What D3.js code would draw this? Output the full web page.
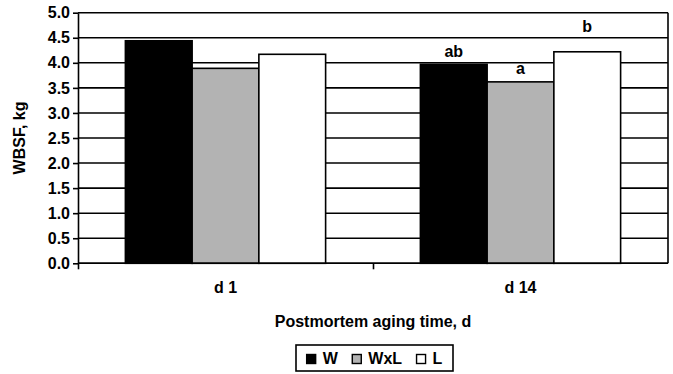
<!DOCTYPE html>
<html>
<head>
<meta charset="utf-8">
<script src="https://cdn.jsdelivr.net/npm/d3@7"></script>
<style>
  body { margin: 0; background: #fff; }
  text { font-family: "Liberation Sans", Arial, sans-serif; font-weight: bold; fill: #000; }
</style>
</head>
<body>
<div id="chart"></div>
<script>
// data
const days = ["d 1", "d 14"];
const breeds = ["W", "WxL", "L"];
const W = [4.44, 3.97];
const WxL = [3.89, 3.62];
const L = [4.17, 4.22];
// significance letters on d 14 and the height they sit at (kg)
const letters = ["ab", "a", "b"];
const letterAt = [4.12, 3.77, 4.61];
const yTicks = [0, 0.5, 1, 1.5, 2, 2.5, 3, 3.5, 4, 4.5, 5];

const colors = {W: "#000000", WxL: "#b3b3b3", L: "#ffffff"};
const values = {W: W, WxL: WxL, L: L};

var width = 673, height = 374;
var margin = {top: 12.7, right: 5, bottom: 110.7, left: 78};

var svg = d3.select("#chart").append("svg")
  .attr("width", width)
  .attr("height", height);

var x0 = d3.scaleBand()
  .domain(days)
  .range([margin.left, width - margin.right]);

var x1 = d3.scaleBand()
  .domain(breeds)
  .range([0, x0.bandwidth()])
  .paddingOuter(0.71);

var y = d3.scaleLinear()
  .domain([0, 5])
  .range([height - margin.bottom, margin.top]);

// horizontal grid lines
svg.append("g")
  .selectAll("line")
  .data(yTicks)
  .join("line")
    .attr("x1", margin.left)
    .attr("x2", width - margin.right)
    .attr("y1", d => y(d))
    .attr("y2", d => y(d))
    .attr("stroke", "#000")
    .attr("stroke-width", 1.6);

// right border
svg.append("line")
  .attr("x1", width - margin.right)
  .attr("x2", width - margin.right)
  .attr("y1", y(5))
  .attr("y2", y(0))
  .attr("stroke", "#000")
  .attr("stroke-width", 1.6);

// bars
var rows = [];
days.forEach((day, i) => {
  breeds.forEach(b => rows.push({day: day, breed: b, value: values[b][i], i: i}));
});

svg.append("g")
  .selectAll("rect")
  .data(rows)
  .join("rect")
    .attr("x", d => x0(d.day) + x1(d.breed))
    .attr("y", d => y(d.value))
    .attr("width", x1.bandwidth())
    .attr("height", d => y(0) - y(d.value))
    .attr("fill", d => colors[d.breed])
    .attr("stroke", "#000")
    .attr("stroke-width", 1.6);

// letters over d 14
svg.append("g")
  .selectAll("text")
  .data(breeds)
  .join("text")
    .attr("x", (d) => x0(days[1]) + x1(d) + x1.bandwidth() / 2)
    .attr("y", (d, i) => y(letterAt[i]))
    .attr("text-anchor", "middle")
    .style("font-size", "16px")
    .text((d, i) => letters[i]);

// y axis
var yAxis = svg.append("g")
  .attr("transform", `translate(${margin.left},0)`)
  .call(d3.axisLeft(y).tickValues(yTicks).tickFormat(d3.format(".1f"))
    .tickSize(5).tickSizeOuter(0).tickPadding(3));
yAxis.selectAll("path, line").attr("stroke", "#000").attr("stroke-width", 1.6);
yAxis.selectAll("text").style("font-size", "16px")
  .style("font-family", '"Liberation Sans", Arial, sans-serif').style("font-weight", "bold");

// x axis: ticks at category boundaries
var xAxis = svg.append("g")
  .attr("transform", `translate(0,${y(0)})`)
  .call(d3.axisBottom(d3.scaleIdentity()).tickValues(days.map(d => x0(d)))
    .tickSize(6).tickSizeOuter(0).tickFormat(""));
xAxis.select(".domain").attr("d", `M${margin.left},0H${width - margin.right}`);
xAxis.selectAll("path, line").attr("stroke", "#000").attr("stroke-width", 1.6);

svg.append("g")
  .selectAll("text")
  .data(days)
  .join("text")
    .attr("x", d => x0(d) + x0.bandwidth() / 2)
    .attr("y", y(0) + 30)
    .attr("text-anchor", "middle")
    .style("font-size", "16px")
    .text(d => d);

// axis titles
svg.append("text")
  .attr("x", (margin.left + width - margin.right) / 2)
  .attr("y", y(0) + 63.5)
  .attr("text-anchor", "middle")
  .style("font-size", "16px")
  .text("Postmortem aging time, d");

svg.append("text")
  .attr("transform", `translate(25,${(y(0) + y(5)) / 2}) rotate(-90)`)
  .attr("text-anchor", "middle")
  .style("font-size", "16px")
  .text("WBSF, kg");

// legend
var legend = svg.append("g");
var box = legend.append("rect")
  .attr("y", 345)
  .attr("height", 26)
  .attr("fill", "#fff")
  .attr("stroke", "#000")
  .attr("stroke-width", 1.6);

var cx = 0;
var items = legend.append("g");
breeds.forEach(b => {
  items.append("rect")
    .attr("x", cx)
    .attr("y", 354.5)
    .attr("width", 9)
    .attr("height", 9)
    .attr("fill", colors[b])
    .attr("stroke", "#000")
    .attr("stroke-width", 1.4);
  var t = items.append("text")
    .attr("x", cx + 16)
    .attr("y", 364.3)
    .style("font-size", "16px")
    .text(b);
  cx += 16 + t.node().getComputedTextLength() + 14.5;
});
var itemsW = cx - 14.5;
var boxX = 296, boxW = 157;
items.attr("transform", `translate(${boxX + (boxW - itemsW) / 2},0)`);
box.attr("x", boxX).attr("width", boxW);
</script>
</body>
</html>
